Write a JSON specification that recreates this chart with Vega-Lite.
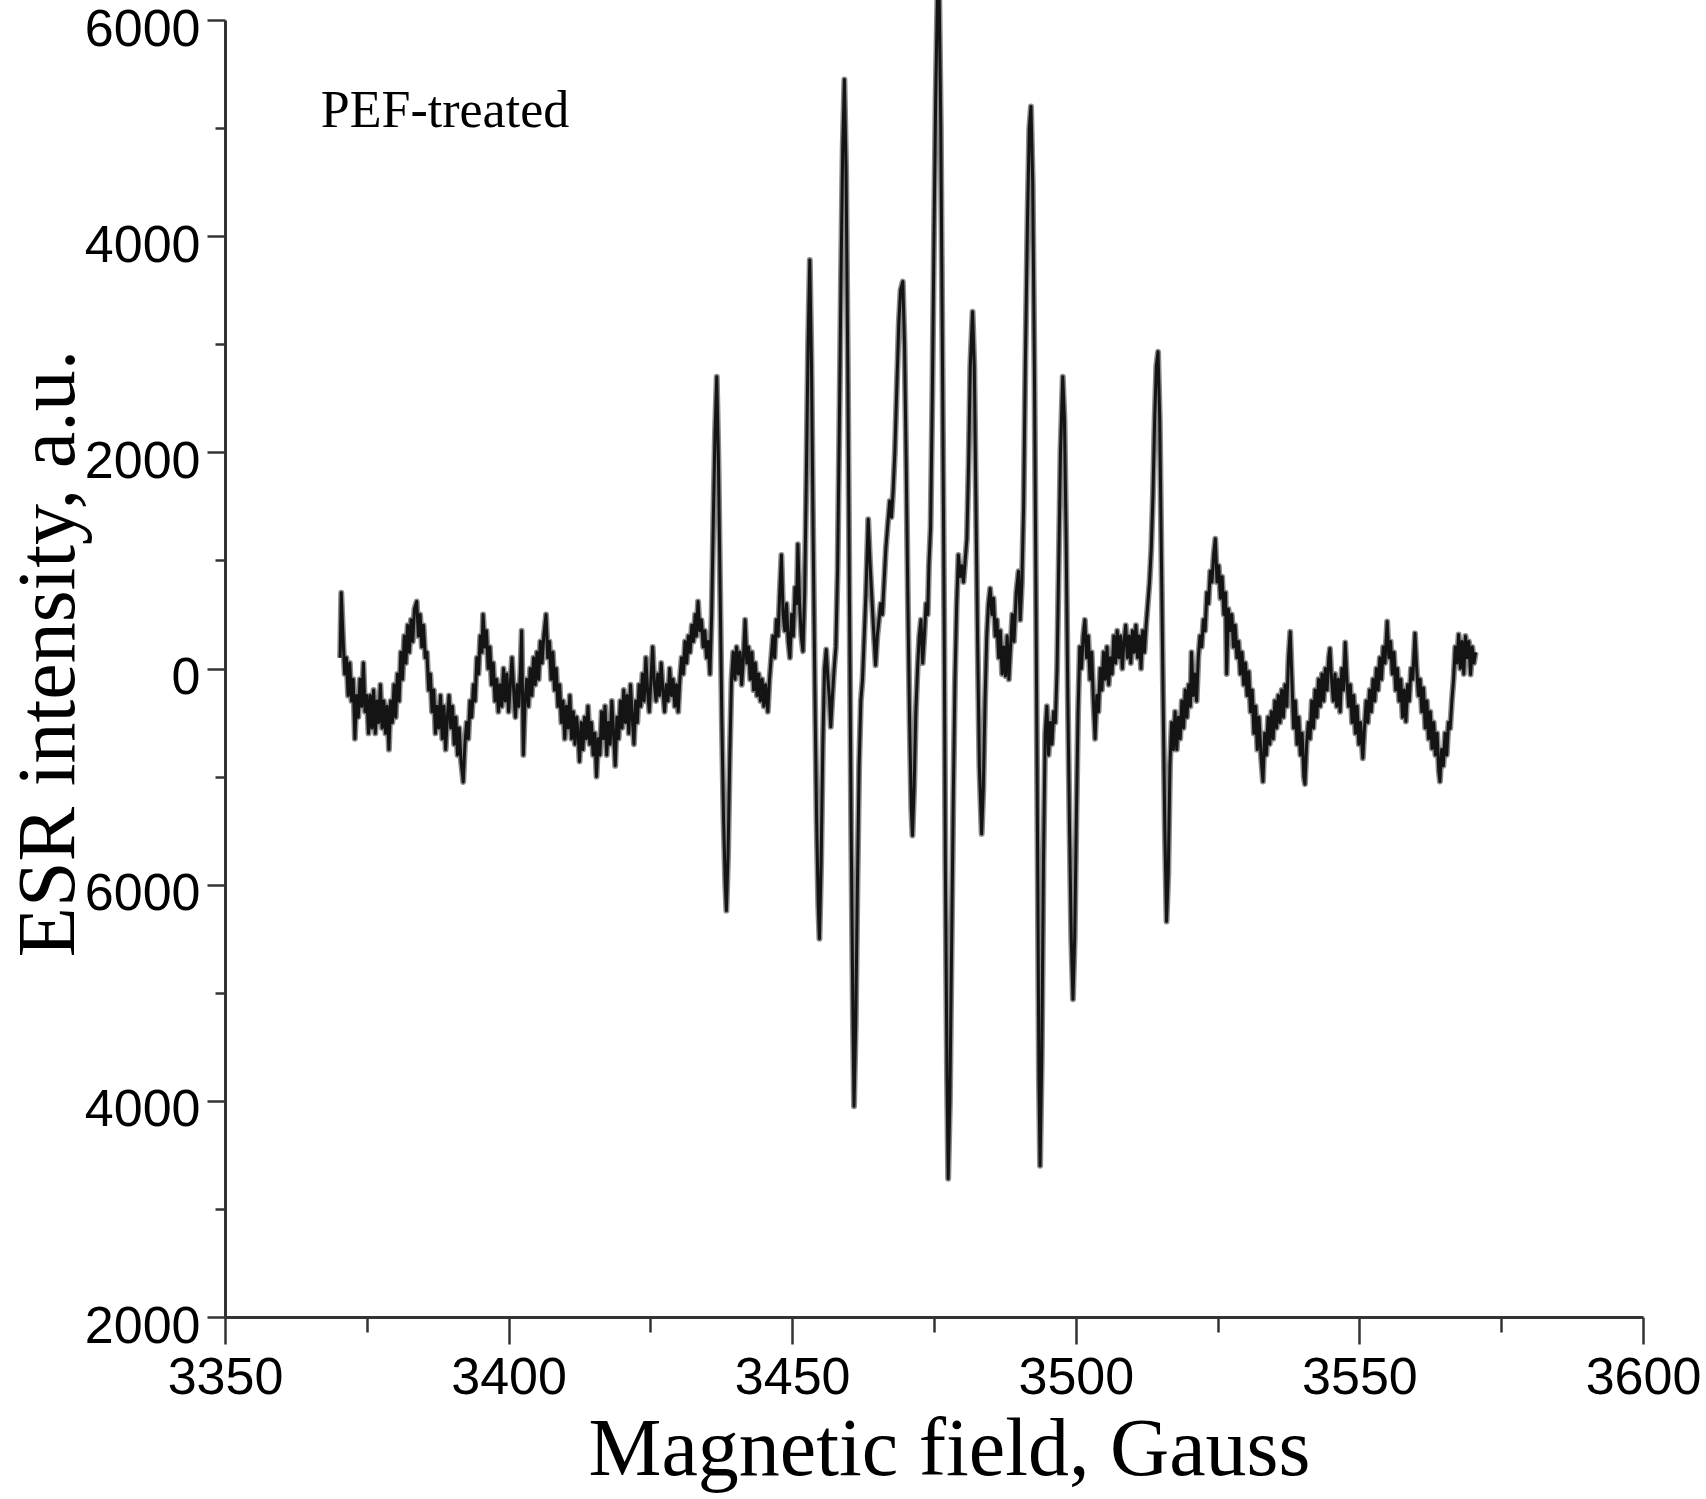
{
"$schema": "https://vega.github.io/schema/vega-lite/v6.json",
"width": 1418, "height": 1297,
"autosize": {"type": "none"},
"padding": {"left": 225, "top": 20, "right": 63, "bottom": 182},
"background": "white",
"config": {"view": {"stroke": null}},
"datasets": {
"note": [{"B": 3366.9, "I": 5010, "t": "PEF-treated"}],
"esr": [
{"B":3370.3,"I":100},{"B":3370.5,"I":700},{"B":3370.8,"I":300},{"B":3371.1,"I":-50},{"B":3371.4,"I":100},{"B":3371.7,"I":-250},{"B":3372.0,"I":50},{"B":3372.3,"I":-300},{"B":3372.6,"I":-100},{"B":3372.9,"I":-650},{"B":3373.2,"I":-250},{"B":3373.5,"I":-450},{"B":3373.8,"I":-100},{"B":3374.1,"I":-350},{"B":3374.4,"I":50},{"B":3374.7,"I":-400},{"B":3375.0,"I":-250},{"B":3375.3,"I":-600},{"B":3375.6,"I":-250},{"B":3375.9,"I":-550},{"B":3376.2,"I":-200},{"B":3376.5,"I":-600},{"B":3376.8,"I":-300},{"B":3377.1,"I":-500},{"B":3377.4,"I":-150},{"B":3377.7,"I":-550},{"B":3378.0,"I":-300},{"B":3378.3,"I":-600},{"B":3378.6,"I":-350},{"B":3378.9,"I":-750},{"B":3379.2,"I":-300},{"B":3379.5,"I":-500},{"B":3379.8,"I":-150},{"B":3380.1,"I":-450},{"B":3380.4,"I":-50},{"B":3380.7,"I":-300},{"B":3381.0,"I":150},{"B":3381.3,"I":-100},{"B":3381.6,"I":300},{"B":3381.9,"I":50},{"B":3382.2,"I":400},{"B":3382.5,"I":150},{"B":3382.8,"I":450},{"B":3383.1,"I":250},{"B":3383.4,"I":550},{"B":3383.8,"I":620},{"B":3384.1,"I":300},{"B":3384.4,"I":500},{"B":3384.7,"I":200},{"B":3385.0,"I":400},{"B":3385.3,"I":100},{"B":3385.6,"I":150},{"B":3385.9,"I":-200},{"B":3386.2,"I":-50},{"B":3386.5,"I":-400},{"B":3386.8,"I":-200},{"B":3387.1,"I":-600},{"B":3387.4,"I":-350},{"B":3387.7,"I":-550},{"B":3388.0,"I":-250},{"B":3388.3,"I":-650},{"B":3388.6,"I":-350},{"B":3388.9,"I":-750},{"B":3389.2,"I":-450},{"B":3389.5,"I":-250},{"B":3389.8,"I":-550},{"B":3390.1,"I":-350},{"B":3390.4,"I":-700},{"B":3390.7,"I":-450},{"B":3391.0,"I":-800},{"B":3391.3,"I":-550},{"B":3391.6,"I":-850},{"B":3392.0,"I":-1050},{"B":3392.3,"I":-700},{"B":3392.6,"I":-500},{"B":3392.9,"I":-650},{"B":3393.2,"I":-300},{"B":3393.5,"I":-450},{"B":3393.8,"I":-150},{"B":3394.1,"I":-300},{"B":3394.4,"I":100},{"B":3394.7,"I":-50},{"B":3395.0,"I":300},{"B":3395.3,"I":150},{"B":3395.5,"I":500},{"B":3395.8,"I":200},{"B":3396.1,"I":350},{"B":3396.4,"I":0},{"B":3396.7,"I":200},{"B":3397.0,"I":-150},{"B":3397.3,"I":50},{"B":3397.6,"I":-300},{"B":3397.9,"I":-100},{"B":3398.2,"I":-400},{"B":3398.5,"I":-150},{"B":3398.8,"I":-350},{"B":3399.1,"I":0},{"B":3399.4,"I":-300},{"B":3399.7,"I":-50},{"B":3400.0,"I":-400},{"B":3400.3,"I":-150},{"B":3400.6,"I":100},{"B":3400.9,"I":-200},{"B":3401.2,"I":-450},{"B":3401.5,"I":-150},{"B":3401.8,"I":-350},{"B":3402.1,"I":0},{"B":3402.3,"I":350},{"B":3402.6,"I":-800},{"B":3402.9,"I":-300},{"B":3403.2,"I":-100},{"B":3403.5,"I":-350},{"B":3403.8,"I":0},{"B":3404.1,"I":-250},{"B":3404.4,"I":100},{"B":3404.7,"I":-150},{"B":3405.0,"I":150},{"B":3405.3,"I":-100},{"B":3405.6,"I":250},{"B":3405.9,"I":50},{"B":3406.2,"I":300},{"B":3406.6,"I":500},{"B":3406.9,"I":100},{"B":3407.2,"I":250},{"B":3407.5,"I":-100},{"B":3407.8,"I":150},{"B":3408.1,"I":-200},{"B":3408.4,"I":0},{"B":3408.7,"I":-350},{"B":3409.0,"I":-150},{"B":3409.3,"I":-500},{"B":3409.6,"I":-300},{"B":3409.9,"I":-650},{"B":3410.2,"I":-350},{"B":3410.5,"I":-550},{"B":3410.8,"I":-250},{"B":3411.1,"I":-650},{"B":3411.4,"I":-400},{"B":3411.7,"I":-700},{"B":3412.0,"I":-450},{"B":3412.3,"I":-650},{"B":3412.5,"I":-860},{"B":3412.8,"I":-500},{"B":3413.1,"I":-750},{"B":3413.4,"I":-450},{"B":3413.7,"I":-650},{"B":3414.0,"I":-350},{"B":3414.3,"I":-700},{"B":3414.6,"I":-500},{"B":3414.9,"I":-800},{"B":3415.2,"I":-600},{"B":3415.5,"I":-1000},{"B":3415.8,"I":-650},{"B":3416.1,"I":-800},{"B":3416.4,"I":-400},{"B":3416.7,"I":-650},{"B":3417.0,"I":-350},{"B":3417.3,"I":-800},{"B":3417.6,"I":-500},{"B":3417.9,"I":-700},{"B":3418.2,"I":-300},{"B":3418.5,"I":-600},{"B":3418.8,"I":-900},{"B":3419.1,"I":-450},{"B":3419.4,"I":-650},{"B":3419.7,"I":-300},{"B":3420.0,"I":-550},{"B":3420.3,"I":-200},{"B":3420.6,"I":-500},{"B":3420.9,"I":-250},{"B":3421.2,"I":-600},{"B":3421.5,"I":-150},{"B":3421.8,"I":-450},{"B":3422.1,"I":-700},{"B":3422.4,"I":-300},{"B":3422.7,"I":-500},{"B":3423.0,"I":-150},{"B":3423.3,"I":-350},{"B":3423.6,"I":-50},{"B":3423.9,"I":-300},{"B":3424.2,"I":100},{"B":3424.5,"I":-200},{"B":3424.8,"I":-400},{"B":3425.1,"I":-100},{"B":3425.4,"I":200},{"B":3425.7,"I":-150},{"B":3426.0,"I":-300},{"B":3426.3,"I":-50},{"B":3426.6,"I":-250},{"B":3426.9,"I":50},{"B":3427.2,"I":-200},{"B":3427.5,"I":-400},{"B":3427.8,"I":-150},{"B":3428.1,"I":-300},{"B":3428.4,"I":0},{"B":3428.7,"I":-250},{"B":3429.0,"I":-100},{"B":3429.3,"I":-350},{"B":3429.6,"I":-150},{"B":3429.9,"I":-400},{"B":3430.2,"I":-100},{"B":3430.5,"I":100},{"B":3430.8,"I":-50},{"B":3431.1,"I":250},{"B":3431.4,"I":50},{"B":3431.7,"I":300},{"B":3432.0,"I":150},{"B":3432.3,"I":400},{"B":3432.6,"I":250},{"B":3432.9,"I":500},{"B":3433.1,"I":300},{"B":3433.4,"I":620},{"B":3433.7,"I":350},{"B":3434.0,"I":450},{"B":3434.3,"I":200},{"B":3434.6,"I":350},{"B":3434.9,"I":100},{"B":3435.2,"I":250},{"B":3435.5,"I":-50},{"B":3435.8,"I":500},{"B":3436.1,"I":1400},{"B":3436.4,"I":2200},{"B":3436.7,"I":2700},{"B":3437.0,"I":1900},{"B":3437.3,"I":700},{"B":3437.6,"I":-500},{"B":3437.9,"I":-1400},{"B":3438.2,"I":-2000},{"B":3438.4,"I":-2240},{"B":3438.7,"I":-1700},{"B":3439.0,"I":-800},{"B":3439.3,"I":-100},{"B":3439.6,"I":150},{"B":3439.9,"I":-100},{"B":3440.2,"I":200},{"B":3440.5,"I":-50},{"B":3440.8,"I":150},{"B":3441.1,"I":-150},{"B":3441.4,"I":100},{"B":3441.7,"I":450},{"B":3442.0,"I":50},{"B":3442.3,"I":200},{"B":3442.6,"I":-100},{"B":3442.9,"I":150},{"B":3443.2,"I":-200},{"B":3443.5,"I":50},{"B":3443.8,"I":-250},{"B":3444.1,"I":-50},{"B":3444.4,"I":-300},{"B":3444.7,"I":-100},{"B":3445.0,"I":-350},{"B":3445.3,"I":-150},{"B":3445.7,"I":-400},{"B":3446.0,"I":-100},{"B":3446.3,"I":100},{"B":3446.6,"I":300},{"B":3446.9,"I":100},{"B":3447.2,"I":450},{"B":3447.5,"I":300},{"B":3447.8,"I":700},{"B":3448.1,"I":1050},{"B":3448.4,"I":500},{"B":3448.7,"I":350},{"B":3449.0,"I":600},{"B":3449.3,"I":250},{"B":3449.6,"I":100},{"B":3449.9,"I":500},{"B":3450.2,"I":300},{"B":3450.5,"I":750},{"B":3450.8,"I":600},{"B":3451.0,"I":1150},{"B":3451.3,"I":600},{"B":3451.6,"I":300},{"B":3451.9,"I":160},{"B":3452.2,"I":700},{"B":3452.5,"I":1800},{"B":3452.8,"I":3000},{"B":3453.1,"I":3780},{"B":3453.4,"I":2800},{"B":3453.7,"I":1200},{"B":3454.0,"I":-200},{"B":3454.3,"I":-1400},{"B":3454.6,"I":-2200},{"B":3454.8,"I":-2500},{"B":3455.1,"I":-1800},{"B":3455.4,"I":-700},{"B":3455.7,"I":0},{"B":3456.0,"I":175},{"B":3456.3,"I":-100},{"B":3456.6,"I":-300},{"B":3456.8,"I":-540},{"B":3457.1,"I":-250},{"B":3457.4,"I":0},{"B":3457.7,"I":200},{"B":3458.0,"I":900},{"B":3458.3,"I":2200},{"B":3458.6,"I":3600},{"B":3458.9,"I":4800},{"B":3459.2,"I":5450},{"B":3459.5,"I":4600},{"B":3459.8,"I":2800},{"B":3460.1,"I":600},{"B":3460.4,"I":-1500},{"B":3460.7,"I":-3200},{"B":3460.9,"I":-4050},{"B":3461.2,"I":-3300},{"B":3461.5,"I":-2000},{"B":3461.8,"I":-900},{"B":3462.1,"I":-300},{"B":3462.4,"I":-100},{"B":3462.7,"I":300},{"B":3463.0,"I":700},{"B":3463.4,"I":1380},{"B":3463.7,"I":1000},{"B":3464.0,"I":700},{"B":3464.3,"I":400},{"B":3464.7,"I":30},{"B":3465.0,"I":300},{"B":3465.3,"I":450},{"B":3465.6,"I":600},{"B":3465.9,"I":500},{"B":3466.2,"I":800},{"B":3466.5,"I":1100},{"B":3466.8,"I":1300},{"B":3467.2,"I":1550},{"B":3467.5,"I":1400},{"B":3467.8,"I":1650},{"B":3468.1,"I":2000},{"B":3468.5,"I":2700},{"B":3468.8,"I":3200},{"B":3469.1,"I":3500},{"B":3469.5,"I":3580},{"B":3469.8,"I":3000},{"B":3470.1,"I":1900},{"B":3470.4,"I":600},{"B":3470.7,"I":-500},{"B":3471.0,"I":-1300},{"B":3471.2,"I":-1545},{"B":3471.5,"I":-1100},{"B":3471.8,"I":-400},{"B":3472.1,"I":0},{"B":3472.4,"I":300},{"B":3472.7,"I":450},{"B":3473.0,"I":50},{"B":3473.3,"I":300},{"B":3473.6,"I":600},{"B":3473.9,"I":500},{"B":3474.1,"I":950},{"B":3474.4,"I":1300},{"B":3474.7,"I":2500},{"B":3475.0,"I":4000},{"B":3475.3,"I":5300},{"B":3475.6,"I":6200},{"B":3475.9,"I":6300},{"B":3476.2,"I":5000},{"B":3476.5,"I":2800},{"B":3476.8,"I":400},{"B":3477.0,"I":-1800},{"B":3477.3,"I":-3800},{"B":3477.5,"I":-4720},{"B":3477.8,"I":-4000},{"B":3478.1,"I":-2600},{"B":3478.4,"I":-1200},{"B":3478.7,"I":-100},{"B":3479.0,"I":600},{"B":3479.3,"I":1050},{"B":3479.6,"I":850},{"B":3479.9,"I":950},{"B":3480.2,"I":800},{"B":3480.5,"I":1000},{"B":3480.8,"I":1200},{"B":3481.1,"I":1900},{"B":3481.4,"I":2800},{"B":3481.8,"I":3300},{"B":3482.1,"I":2800},{"B":3482.4,"I":1500},{"B":3482.7,"I":200},{"B":3483.0,"I":-900},{"B":3483.4,"I":-1530},{"B":3483.7,"I":-1100},{"B":3484.0,"I":-300},{"B":3484.3,"I":300},{"B":3484.6,"I":600},{"B":3484.9,"I":740},{"B":3485.2,"I":500},{"B":3485.5,"I":650},{"B":3485.8,"I":300},{"B":3486.1,"I":450},{"B":3486.4,"I":100},{"B":3486.7,"I":350},{"B":3487.0,"I":-50},{"B":3487.3,"I":200},{"B":3487.6,"I":-70},{"B":3487.9,"I":300},{"B":3488.2,"I":-100},{"B":3488.5,"I":200},{"B":3488.8,"I":500},{"B":3489.1,"I":250},{"B":3489.5,"I":700},{"B":3489.9,"I":900},{"B":3490.2,"I":450},{"B":3490.5,"I":800},{"B":3490.8,"I":1500},{"B":3491.1,"I":2800},{"B":3491.5,"I":4200},{"B":3491.8,"I":5000},{"B":3492.1,"I":5200},{"B":3492.4,"I":4500},{"B":3492.7,"I":2800},{"B":3493.0,"I":500},{"B":3493.3,"I":-2000},{"B":3493.5,"I":-3800},{"B":3493.7,"I":-4600},{"B":3494.0,"I":-3600},{"B":3494.3,"I":-1800},{"B":3494.6,"I":-600},{"B":3494.9,"I":-350},{"B":3495.2,"I":-800},{"B":3495.5,"I":-500},{"B":3495.8,"I":-700},{"B":3496.1,"I":-400},{"B":3496.4,"I":-500},{"B":3496.7,"I":0},{"B":3497.0,"I":1000},{"B":3497.3,"I":2000},{"B":3497.7,"I":2700},{"B":3498.0,"I":2300},{"B":3498.3,"I":1200},{"B":3498.6,"I":-300},{"B":3498.9,"I":-1500},{"B":3499.2,"I":-2500},{"B":3499.5,"I":-3060},{"B":3499.8,"I":-2500},{"B":3500.1,"I":-1400},{"B":3500.4,"I":-400},{"B":3500.7,"I":200},{"B":3501.0,"I":0},{"B":3501.3,"I":300},{"B":3501.6,"I":450},{"B":3501.9,"I":100},{"B":3502.2,"I":300},{"B":3502.5,"I":-100},{"B":3502.8,"I":150},{"B":3503.1,"I":-300},{"B":3503.4,"I":-650},{"B":3503.7,"I":-250},{"B":3504.0,"I":-400},{"B":3504.3,"I":0},{"B":3504.6,"I":-200},{"B":3504.9,"I":150},{"B":3505.2,"I":-100},{"B":3505.5,"I":200},{"B":3505.8,"I":-150},{"B":3506.1,"I":100},{"B":3506.4,"I":-50},{"B":3506.7,"I":300},{"B":3507.0,"I":50},{"B":3507.3,"I":350},{"B":3507.6,"I":100},{"B":3507.9,"I":300},{"B":3508.2,"I":0},{"B":3508.5,"I":250},{"B":3508.8,"I":400},{"B":3509.1,"I":100},{"B":3509.4,"I":300},{"B":3509.7,"I":50},{"B":3510.0,"I":350},{"B":3510.3,"I":150},{"B":3510.6,"I":400},{"B":3510.9,"I":100},{"B":3511.2,"I":300},{"B":3511.5,"I":0},{"B":3511.8,"I":350},{"B":3512.1,"I":150},{"B":3512.4,"I":400},{"B":3512.7,"I":600},{"B":3513.0,"I":800},{"B":3513.3,"I":1100},{"B":3513.6,"I":1600},{"B":3513.9,"I":2300},{"B":3514.2,"I":2800},{"B":3514.5,"I":2930},{"B":3514.8,"I":2300},{"B":3515.1,"I":1000},{"B":3515.4,"I":-300},{"B":3515.7,"I":-1500},{"B":3516.0,"I":-2340},{"B":3516.3,"I":-1900},{"B":3516.6,"I":-900},{"B":3516.9,"I":-500},{"B":3517.2,"I":-750},{"B":3517.5,"I":-400},{"B":3517.8,"I":-750},{"B":3518.1,"I":-450},{"B":3518.4,"I":-650},{"B":3518.7,"I":-300},{"B":3519.0,"I":-550},{"B":3519.3,"I":-200},{"B":3519.6,"I":-450},{"B":3519.9,"I":-150},{"B":3520.2,"I":-350},{"B":3520.4,"I":150},{"B":3520.7,"I":-250},{"B":3521.0,"I":-50},{"B":3521.3,"I":-300},{"B":3521.6,"I":100},{"B":3521.9,"I":300},{"B":3522.2,"I":200},{"B":3522.5,"I":450},{"B":3522.8,"I":350},{"B":3523.1,"I":700},{"B":3523.4,"I":600},{"B":3523.7,"I":900},{"B":3524.0,"I":800},{"B":3524.3,"I":1050},{"B":3524.6,"I":1200},{"B":3524.9,"I":800},{"B":3525.2,"I":950},{"B":3525.5,"I":650},{"B":3525.8,"I":850},{"B":3526.1,"I":500},{"B":3526.4,"I":700},{"B":3526.6,"I":-50},{"B":3526.9,"I":550},{"B":3527.2,"I":350},{"B":3527.5,"I":500},{"B":3527.8,"I":200},{"B":3528.1,"I":400},{"B":3528.4,"I":100},{"B":3528.7,"I":250},{"B":3529.0,"I":-50},{"B":3529.3,"I":150},{"B":3529.6,"I":-150},{"B":3529.9,"I":50},{"B":3530.2,"I":-250},{"B":3530.5,"I":-30},{"B":3530.8,"I":-400},{"B":3531.1,"I":-200},{"B":3531.4,"I":-600},{"B":3531.7,"I":-350},{"B":3532.0,"I":-750},{"B":3532.3,"I":-450},{"B":3532.7,"I":-850},{"B":3533.0,"I":-1045},{"B":3533.3,"I":-600},{"B":3533.6,"I":-800},{"B":3533.9,"I":-450},{"B":3534.2,"I":-700},{"B":3534.5,"I":-400},{"B":3534.8,"I":-650},{"B":3535.1,"I":-300},{"B":3535.4,"I":-550},{"B":3535.7,"I":-250},{"B":3536.0,"I":-500},{"B":3536.3,"I":-200},{"B":3536.6,"I":-450},{"B":3536.9,"I":-150},{"B":3537.2,"I":-350},{"B":3537.5,"I":100},{"B":3537.8,"I":340},{"B":3538.1,"I":-100},{"B":3538.4,"I":-550},{"B":3538.7,"I":-300},{"B":3539.0,"I":-700},{"B":3539.3,"I":-450},{"B":3539.6,"I":-800},{"B":3539.9,"I":-600},{"B":3540.2,"I":-1000},{"B":3540.4,"I":-1070},{"B":3540.7,"I":-700},{"B":3541.0,"I":-500},{"B":3541.3,"I":-650},{"B":3541.6,"I":-300},{"B":3541.9,"I":-550},{"B":3542.2,"I":-200},{"B":3542.5,"I":-450},{"B":3542.8,"I":-100},{"B":3543.1,"I":-350},{"B":3543.4,"I":-50},{"B":3543.7,"I":-300},{"B":3544.0,"I":0},{"B":3544.3,"I":-200},{"B":3544.6,"I":100},{"B":3544.8,"I":185},{"B":3545.1,"I":-100},{"B":3545.4,"I":-300},{"B":3545.7,"I":-50},{"B":3546.0,"I":-350},{"B":3546.3,"I":-100},{"B":3546.6,"I":-400},{"B":3546.9,"I":0},{"B":3547.2,"I":-200},{"B":3547.5,"I":240},{"B":3547.8,"I":-100},{"B":3548.1,"I":-350},{"B":3548.4,"I":-150},{"B":3548.7,"I":-500},{"B":3549.0,"I":-250},{"B":3549.3,"I":-600},{"B":3549.6,"I":-350},{"B":3549.9,"I":-700},{"B":3550.2,"I":-500},{"B":3550.6,"I":-830},{"B":3550.9,"I":-550},{"B":3551.2,"I":-300},{"B":3551.5,"I":-500},{"B":3551.8,"I":-200},{"B":3552.1,"I":-400},{"B":3552.4,"I":-100},{"B":3552.7,"I":-300},{"B":3553.0,"I":0},{"B":3553.3,"I":-200},{"B":3553.6,"I":100},{"B":3553.9,"I":-100},{"B":3554.2,"I":200},{"B":3554.5,"I":50},{"B":3554.9,"I":435},{"B":3555.2,"I":100},{"B":3555.5,"I":250},{"B":3555.8,"I":-50},{"B":3556.1,"I":150},{"B":3556.4,"I":-200},{"B":3556.7,"I":0},{"B":3557.0,"I":-300},{"B":3557.3,"I":-100},{"B":3557.6,"I":-450},{"B":3557.9,"I":-200},{"B":3558.2,"I":-490},{"B":3558.5,"I":-150},{"B":3558.8,"I":-300},{"B":3559.1,"I":0},{"B":3559.4,"I":-100},{"B":3559.8,"I":325},{"B":3560.1,"I":0},{"B":3560.4,"I":-250},{"B":3560.7,"I":-100},{"B":3561.0,"I":-400},{"B":3561.3,"I":-180},{"B":3561.6,"I":-550},{"B":3561.9,"I":-300},{"B":3562.2,"I":-650},{"B":3562.5,"I":-400},{"B":3562.8,"I":-740},{"B":3563.1,"I":-500},{"B":3563.4,"I":-800},{"B":3563.7,"I":-600},{"B":3564.0,"I":-950},{"B":3564.2,"I":-1045},{"B":3564.5,"I":-750},{"B":3564.8,"I":-900},{"B":3565.1,"I":-600},{"B":3565.4,"I":-800},{"B":3565.7,"I":-500},{"B":3566.0,"I":-555},{"B":3566.3,"I":-300},{"B":3566.6,"I":-100},{"B":3566.9,"I":200},{"B":3567.2,"I":50},{"B":3567.5,"I":315},{"B":3567.8,"I":0},{"B":3568.1,"I":250},{"B":3568.4,"I":-50},{"B":3568.7,"I":300},{"B":3569.0,"I":100},{"B":3569.3,"I":250},{"B":3569.6,"I":-55},{"B":3569.9,"I":200},{"B":3570.2,"I":50},{"B":3570.5,"I":150}
]
},
"encoding": {
  "x": {"field": "B", "type": "quantitative",
    "scale": {"domain": [3350, 3600], "nice": false, "zero": false},
    "axis": {"values": [3350,3375,3400,3425,3450,3475,3500,3525,3550,3575,3600],
      "format": "d",
      "labelExpr": "datum.value % 50 === 0 ? datum.label : ''",
      "tickSize": {"condition": {"test": "datum.value % 50 !== 0", "value": 15}, "value": 27},
      "tickWidth": 2.5, "tickColor": "#333333",
      "domainColor": "#333333", "domainWidth": 3,
      "labelFont": "Liberation Sans", "labelFontSize": 52, "labelColor": "black",
      "labelPadding": 8, "labelFlush": false, "labelOverlap": false, "grid": false,
      "title": "Magnetic field, Gauss", "titleFont": "Liberation Serif", "titleFontSize": 82,
      "titleFontWeight": "normal", "titleColor": "black",
      "titleX": 724, "titleY": 157, "titleBaseline": "alphabetic", "titleAlign": "center"}},
  "y": {"field": "I", "type": "quantitative",
    "scale": {"domain": [-6000, 6000], "nice": false},
    "axis": {"values": [-6000,-5000,-4000,-3000,-2000,-1000,0,1000,2000,3000,4000,5000,6000],
      "labelExpr": "datum.value % 2000 !== 0 ? '' : datum.value >= 0 ? '' + datum.value : datum.value === -2000 ? '6000' : datum.value === -4000 ? '4000' : '2000'",
      "tickSize": {"condition": {"test": "datum.value % 2000 !== 0", "value": 10}, "value": 18},
      "tickWidth": 2.5, "tickColor": "#333333",
      "domainColor": "#333333", "domainWidth": 3,
      "labelFont": "Liberation Sans", "labelFontSize": 52, "labelColor": "black",
      "labelPadding": 7, "labelOffset": 9, "labelFlush": false, "labelOverlap": false, "grid": false,
      "title": "ESR intensity, a.u.", "titleFont": "Liberation Serif", "titleFontSize": 82,
      "titleFontWeight": "normal", "titleColor": "black", "titleAngle": -90,
      "titleX": -152, "titleY": 633, "titleBaseline": "alphabetic", "titleAlign": "center"}}
},
"layer": [
  {"data": {"name": "esr"}, "mark": {"type": "line", "color": "#8c8c8c", "strokeWidth": 6, "strokeJoin": "round"}},
  {"data": {"name": "esr"}, "mark": {"type": "line", "color": "#141414", "strokeWidth": 3, "strokeJoin": "round"}},
  {"data": {"name": "note"}, "mark": {"type": "text", "font": "Liberation Serif", "fontSize": 52, "align": "left", "baseline": "alphabetic", "color": "black"},
   "encoding": {"text": {"field": "t"}}}
]
}
